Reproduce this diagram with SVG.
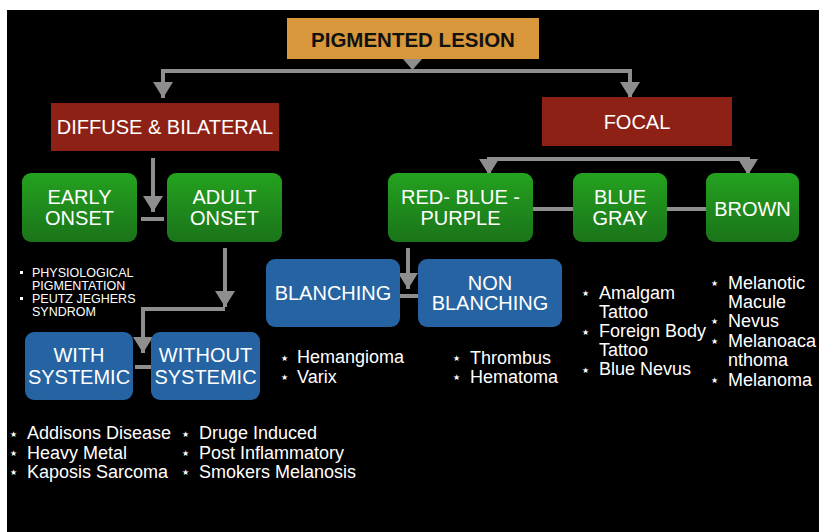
<svg xmlns="http://www.w3.org/2000/svg" width="819" height="532" viewBox="0 0 819 532">
<defs>
<linearGradient id="gGreen" x1="0" y1="0" x2="0" y2="1">
<stop offset="0" stop-color="#24a21f"/>
<stop offset="1" stop-color="#1a741a"/>
</linearGradient>
<marker id="arr" markerUnits="userSpaceOnUse" markerWidth="22" markerHeight="22" refX="16" refY="10" orient="auto">
<path d="M0,0 L16,10 L0,20 Z" fill="#8e8e8e"/>
</marker>
<style>
.lbl{font-family:"Liberation Sans",Arial,sans-serif;font-size:20px;fill:#fff;text-anchor:middle}
.red{fill:#8d2116}
.green{fill:url(#gGreen)}
.blue{fill:#2663a2}
.con{fill:none;stroke:#8e8e8e;stroke-width:4;stroke-linejoin:miter}
.li{font-family:"Liberation Sans",Arial,sans-serif;font-size:18px;fill:#fff}
.sm{font-family:"Liberation Sans",Arial,sans-serif;font-size:12.5px;fill:#fff}
.st{font-family:"DejaVu Sans",sans-serif;font-size:8px;fill:#fff}
</style>
</defs>
<rect x="0" y="0" width="819" height="532" fill="#fff"/>
<rect x="7" y="10" width="812" height="522" fill="#000"/>

<g id="connectors">
<polygon points="403,59 422,59 412.5,70" fill="#8e8e8e"/>
<path class="con" d="M412,71 H163 V98" marker-end="url(#arr)"/>
<path class="con" d="M412,71 H630 V98" marker-end="url(#arr)"/>
<path class="con" d="M619,159 H489 V175" marker-end="url(#arr)"/>
<path class="con" d="M619,159 H748 V175" marker-end="url(#arr)"/>
<path class="con" d="M153,158 V212" marker-end="url(#arr)"/>
<path class="con" d="M141,219 H164"/>
<path class="con" d="M225,248 V307" marker-end="url(#arr)"/>
<path class="con" d="M225,309 H143 V353" marker-end="url(#arr)"/>
<path class="con" d="M135,367 H151"/>
<path class="con" d="M408,248 V289" marker-end="url(#arr)"/>
<path class="con" d="M400,296 H418"/>
<path class="con" d="M533,209 H573"/>
<path class="con" d="M667,209 H706"/>
</g>

<g id="pigmented-lesion">
<rect x="287" y="18" width="252" height="41" fill="#d8973a"/>
<text x="413" y="47" style="font-family:'Liberation Sans',Arial,sans-serif;font-size:20.5px;font-weight:bold;fill:#111;text-anchor:middle">PIGMENTED LESION</text>
</g>
<g id="diffuse-bilateral">
<rect class="red" x="51" y="103" width="228" height="48"/>
<text class="lbl" x="165" y="134">DIFFUSE &amp; BILATERAL</text>
</g>
<g id="focal">
<rect class="red" x="542" y="97" width="190" height="49"/>
<text class="lbl" x="637" y="129">FOCAL</text>
</g>
<g id="early-onset">
<rect class="green" x="22" y="173" width="115" height="69" rx="9"/>
<text class="lbl" x="79.5" y="204">EARLY</text>
<text class="lbl" x="79.5" y="225">ONSET</text>
</g>
<g id="adult-onset">
<rect class="green" x="167" y="173" width="115" height="69" rx="9"/>
<text class="lbl" x="224.5" y="204">ADULT</text>
<text class="lbl" x="224.5" y="225">ONSET</text>
</g>
<g id="red-blue-purple">
<rect class="green" x="388" y="173" width="145" height="69" rx="9"/>
<text class="lbl" x="460.5" y="204">RED- BLUE -</text>
<text class="lbl" x="460.5" y="225">PURPLE</text>
</g>
<g id="blue-gray">
<rect class="green" x="573" y="173" width="94" height="69" rx="9"/>
<text class="lbl" x="620" y="204">BLUE</text>
<text class="lbl" x="620" y="225">GRAY</text>
</g>
<g id="brown">
<rect class="green" x="706" y="173" width="93" height="69" rx="9"/>
<text class="lbl" x="752.5" y="216">BROWN</text>
</g>
<g id="blanching">
<rect class="blue" x="266" y="259" width="134" height="68" rx="9"/>
<text class="lbl" x="333" y="300">BLANCHING</text>
</g>
<g id="non-blanching">
<rect class="blue" x="418" y="259" width="144" height="68" rx="9"/>
<text class="lbl" x="490" y="290">NON</text>
<text class="lbl" x="490" y="310">BLANCHING</text>
</g>
<g id="with-systemic">
<rect class="blue" x="25" y="332" width="108" height="68" rx="9"/>
<text class="lbl" x="79" y="362">WITH</text>
<text class="lbl" x="79" y="384">SYSTEMIC</text>
</g>
<g id="without-systemic">
<rect class="blue" x="151" y="332" width="109" height="68" rx="9"/>
<text class="lbl" x="205.5" y="362">WITHOUT</text>
<text class="lbl" x="205.5" y="384">SYSTEMIC</text>
</g>

<g id="list-early">
<rect x="20" y="271" width="3" height="3" fill="#fff"/>
<rect x="20" y="297" width="3" height="3" fill="#fff"/>
<text class="sm" x="32" y="277">PHYSIOLOGICAL</text>
<text class="sm" x="32" y="290">PIGMENTATION</text>
<text class="sm" x="32" y="303">PEUTZ JEGHERS</text>
<text class="sm" x="32" y="316">SYNDROM</text>
</g>
<g id="list-blanching">
<text class="st" x="281" y="361">★</text>
<text class="st" x="281" y="380">★</text>
<text class="li" x="297" y="363">Hemangioma</text>
<text class="li" x="297" y="383">Varix</text>
</g>
<g id="list-nonblanching">
<text class="st" x="453" y="361">★</text>
<text class="st" x="453" y="380">★</text>
<text class="li" x="470" y="364">Thrombus</text>
<text class="li" x="470" y="383">Hematoma</text>
</g>
<g id="list-bluegray">
<text class="st" x="582" y="296">★</text>
<text class="st" x="582" y="335">★</text>
<text class="st" x="582" y="373">★</text>
<text class="li" x="599" y="299">Amalgam</text>
<text class="li" x="599" y="318">Tattoo</text>
<text class="li" x="599" y="337">Foreign Body</text>
<text class="li" x="599" y="356">Tattoo</text>
<text class="li" x="599" y="375">Blue Nevus</text>
</g>
<g id="list-brown">
<text class="st" x="711" y="286">★</text>
<text class="st" x="711" y="324">★</text>
<text class="st" x="711" y="344">★</text>
<text class="st" x="711" y="383">★</text>
<text class="li" x="728" y="289">Melanotic</text>
<text class="li" x="728" y="308">Macule</text>
<text class="li" x="728" y="327">Nevus</text>
<text class="li" x="728" y="347">Melanoaca</text>
<text class="li" x="728" y="366">nthoma</text>
<text class="li" x="728" y="386">Melanoma</text>
</g>
<g id="list-with">
<text class="st" x="10" y="437">★</text>
<text class="st" x="10" y="456">★</text>
<text class="st" x="10" y="475">★</text>
<text class="li" x="27" y="439">Addisons Disease</text>
<text class="li" x="27" y="459">Heavy Metal</text>
<text class="li" x="27" y="478">Kaposis Sarcoma</text>
</g>
<g id="list-without">
<text class="st" x="182" y="437">★</text>
<text class="st" x="182" y="456">★</text>
<text class="st" x="182" y="475">★</text>
<text class="li" x="199" y="439">Druge Induced</text>
<text class="li" x="199" y="459">Post Inflammatory</text>
<text class="li" x="199" y="478">Smokers Melanosis</text>
</g>
</svg>
